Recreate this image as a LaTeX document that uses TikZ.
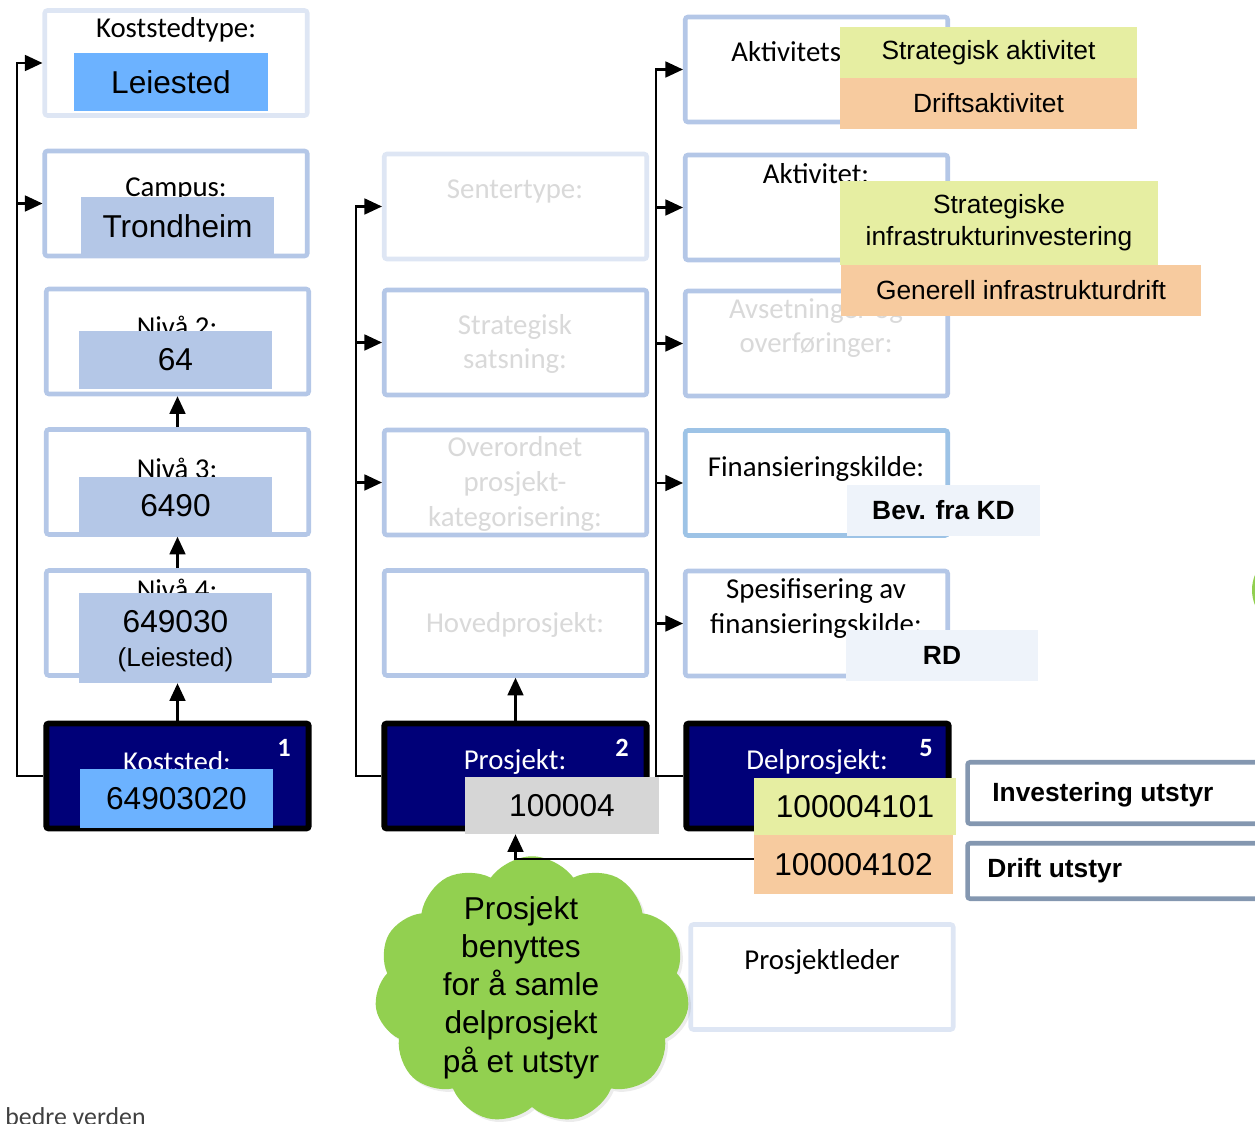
\documentclass[tikz,border=0pt]{standalone}
\usepackage{fontspec}
\setmainfont{Carlito}
\newfontfamily\arialfont{Liberation Sans}
\usetikzlibrary{arrows.meta,shapes.symbols,shadows}

\tikzset{
    box/.style={draw=boxblue, line width=2.6pt, fill=white, rounded corners=1.5pt, minimum width=5.25cm, minimum height=2.1cm, inner sep=0pt},
    palebox/.style={box, draw=boxpale},
    mainbox/.style={box, draw=black, fill=navy, line width=3.4pt},
    lbl/.style={inner sep=0pt, align=center, font=\fontsize{16.4}{19.8}\selectfont},
    greylbl/.style={lbl, text=greytext},
    whitelbl/.style={lbl, text=white},
    badge/.style={inner sep=0pt, text=white, font=\bfseries\fontsize{15}{18}\selectfont},
    valbox/.style={fill=#1, inner sep=0pt, align=center, font=\arialfont\fontsize{18}{21}\selectfont},
    tagbox/.style={valbox=#1, font=\arialfont\fontsize{15}{18}\selectfont},
    arr/.style={line width=1.3pt, -{Triangle[length=10pt,width=9pt]}},
}

\begin{document}
\begin{tikzpicture}[x=0.02cm, y=-0.02cm]
        \definecolor{navy}{HTML}{000078}
        \definecolor{boxblue}{HTML}{B4C7E7}
        \definecolor{boxpale}{HTML}{DEE6F4}
        \definecolor{finblue}{HTML}{9DC3E6}
        \definecolor{slate}{HTML}{8497B0}
        \definecolor{brightblue}{HTML}{6CB2FF}
        \definecolor{limefill}{HTML}{E6EEA2}
        \definecolor{peach}{HTML}{F7CB9F}
        \definecolor{greyfill}{HTML}{D6D6D6}
        \definecolor{lightfill}{HTML}{EEF3FA}
        \definecolor{greytext}{HTML}{D9D9D9}
        \definecolor{cloudgreen}{HTML}{92D050}

        \useasboundingbox (0,0) rectangle (1255,1124);
        \clip (0,0) rectangle (1255,1124);

        \node[palebox] (koststedtype) at (176,63) {};
        \node[lbl] (koststedtypelbl) at (176,30) {Koststedtype:};
        \node[valbox=brightblue, minimum width=3.88cm, minimum height=1.16cm] (leiested) at (171,82) {Leiested};

        \node[box] (campus) at (176,203.5) {};
        \node[lbl] (campuslbl) at (176,189) {Campus:};
        \node[valbox=boxblue, minimum width=3.86cm, minimum height=1.16cm] (trondheim) at (177.5,226) {Trondheim};

        \node[box] (niva2) at (177.5,341.5) {};
        \node[lbl] (niva2lbl) at (177,326) {Nivå 2:};
        \node[valbox=boxblue, minimum width=3.86cm, minimum height=1.16cm] (niva2val) at (175.5,360) {64};

        \node[box] (niva3) at (177.5,482) {};
        \node[lbl] (niva3lbl) at (177,468) {Nivå 3:};
        \node[valbox=boxblue, minimum width=3.86cm, minimum height=1.16cm] (niva3val) at (175.5,506) {6490};

        \node[box] (niva4) at (177.5,623) {};
        \node[lbl] (niva4lbl) at (177,589) {Nivå 4:};
        \node[valbox=boxblue, minimum width=3.86cm, minimum height=1.8cm] (niva4val) at (175.5,638) {};
        \node[valbox=boxblue, fill=none] (niva4txt) at (175.5,641) {649030\\[-2pt]{\fontsize{14.8}{18}\selectfont(Leiested)}};

        \node[mainbox] (koststed) at (177.5,776) {};
        \node[whitelbl] (koststedlbl) at (177,762) {Koststed:};
        \node[badge] (koststednr) at (284,748) {1};
        \node[valbox=brightblue, minimum width=3.86cm, minimum height=1.18cm] (koststedval) at (176.5,798.5) {64903020};

        \node[palebox] (sentertype) at (515.5,206.5) {};
        \node[greylbl] (sentertypelbl) at (515,191) {Sentertype:};

        \node[box] (satsning) at (515.5,342.5) {};
        \node[greylbl] (satsninglbl) at (515,344) {Strategisk\\satsning:};

        \node[box] (overordnet) at (515.5,482.5) {};
        \node[greylbl] (overordnetlbl) at (515,484) {Overordnet\\prosjekt-\\kategorisering:};

        \node[box] (hovedprosjekt) at (515.5,623) {};
        \node[greylbl] (hovedprosjektlbl) at (515,625) {Hovedprosjekt:};

        \node[mainbox] (prosjekt) at (515.5,776) {};
        \node[whitelbl] (prosjektlbl) at (515,762) {Prosjekt:};
        \node[badge] (prosjektnr) at (622,748) {2};
        \node[valbox=greyfill, minimum width=3.88cm, minimum height=1.14cm] (prosjektval) at (562,805.5) {100004};

        \node[box] (aktivitetstype) at (816.5,69.5) {};
        \node[lbl] (aktivitetstypelbl) at (816,54) {Aktivitetstype:};
        \node[box] (aktivitet) at (816.5,207.5) {};
        \node[lbl] (aktivitetlbl) at (816,174) {Aktivitet:};
        \node[box] (avsetning) at (816.5,343.5) {};
        \node[greylbl] (avsetninglbl) at (816,328) {Avsetninger og\\overføringer:};
        \node[box, draw=finblue] (finans) at (816.5,483) {};
        \node[lbl] (finanslbl) at (816,469) {Finansieringskilde:};
        \node[box] (spesifisering) at (816.5,623.5) {};
        \node[lbl] (spesifiseringlbl) at (816,608.5) {Spesifisering av\\finansieringskilde:};

        \node[tagbox=limefill, minimum width=5.94cm, minimum height=1.02cm] (strategiskakt) at (988.5,52.5) {Strategisk aktivitet};
        \node[tagbox=peach, minimum width=5.94cm, minimum height=1.02cm] (driftsakt) at (988.5,103.5) {Driftsaktivitet};
        \node[tagbox=limefill, minimum width=6.36cm, minimum height=1.68cm, font=\arialfont\fontsize{15}{18}\selectfont] (strategiske) at (999,223) {Strategiske\\infrastrukturinvestering};
        \node[tagbox=peach, minimum width=7.2cm, minimum height=1.02cm] (generell) at (1021,290.5) {Generell infrastrukturdrift};
        \node[tagbox=lightfill, minimum width=3.86cm, minimum height=1.02cm, font=\arialfont\bfseries\fontsize{15}{18}\selectfont] (bevkd) at (943.5,510.5) {Bev. fra KD};
        \node[tagbox=lightfill, minimum width=3.84cm, minimum height=1.02cm, font=\arialfont\bfseries\fontsize{15}{18}\selectfont] (rd) at (942,655.5) {RD};

        \node[mainbox] (delprosjekt) at (817.5,776) {};
        \node[whitelbl] (delprosjektlbl) at (817,762) {Delprosjekt:};
        \node[badge] (delprosjektnr) at (926,748) {5};
        \node[valbox=limefill, minimum width=4.04cm, minimum height=1.14cm] (nr101) at (855,806.5) {100004101};
        \node[valbox=peach, minimum width=3.98cm, minimum height=1.18cm] (nr102) at (853.5,864.5) {100004102};

        \node[box, draw=slate, minimum width=6.2cm, minimum height=1.23cm] (investering) at (1122.5,793) {};
        \node[lbl, anchor=west, font=\arialfont\bfseries\fontsize{15}{18}\selectfont] (investeringlbl) at (992,795) {Investering utstyr};
        \node[box, draw=slate, minimum width=6.2cm, minimum height=1.11cm] (drift) at (1122.5,871) {};
        \node[lbl, anchor=west, font=\arialfont\bfseries\fontsize{15}{18}\selectfont] (driftlbl) at (987,871) {Drift utstyr};

        \node[palebox] (prosjektleder) at (822,977) {};
        \node[lbl] (prosjektlederlbl) at (822,962) {Prosjektleder};

        \node[cloud, cloud puffs=11, cloud puff arc=110, aspect=1.18, fill=cloudgreen, minimum width=6.3cm, minimum height=5.35cm, drop shadow={opacity=0.15, shadow xshift=1.5pt, shadow yshift=-1.5pt}] (sky) at (532,990) {};
        \node[align=center, inner sep=0pt, font=\arialfont\fontsize{18}{21.8}\selectfont] (skytext) at (521,987.5) {Prosjekt\\benyttes\\for å samle\\delprosjekt\\på et utstyr};

        \node[circle, fill=cloudgreen, minimum size=1.6cm, drop shadow={opacity=0.15}] (edgeblob) at (1292,590) {};
        \node[anchor=north west, inner sep=0pt, text=black!75, font=\fontsize{14.7}{17}\selectfont] (footer) at (5,1107) {bedre verden};

        \coordinate (trunkA) at (17,776);
        \coordinate (trunkB) at (356,776);
        \coordinate (trunkC) at (656,776);

        \draw[arr] (koststed.west) -- (trunkA) |- (koststedtype.west);
        \draw[arr] (trunkA) |- (campus.west);
        \draw[arr] (koststed.north) -- (koststed.north |- niva4val.south);
        \draw[arr] (niva4.north) -- (niva3.south);
        \draw[arr] (niva3.north) -- (niva2.south);

        \draw[arr] (prosjekt.west) -- (trunkB) |- (sentertype.west);
        \draw[arr] (trunkB) |- (satsning.west);
        \draw[arr] (trunkB) |- (overordnet.west);
        \draw[arr] (prosjekt.north) -- (hovedprosjekt.south);

        \draw[arr] (delprosjekt.west) -- (trunkC) |- (aktivitetstype.west);
        \draw[arr] (trunkC) |- (aktivitet.west);
        \draw[arr] (trunkC) |- (avsetning.west);
        \draw[arr] (trunkC) |- (finans.west);
        \draw[arr] (trunkC) |- (spesifisering.west);

        \draw[arr] ([yshift=3pt]nr102.west) -| (prosjekt |- prosjektval.south);
    \end{tikzpicture}
\end{document}
